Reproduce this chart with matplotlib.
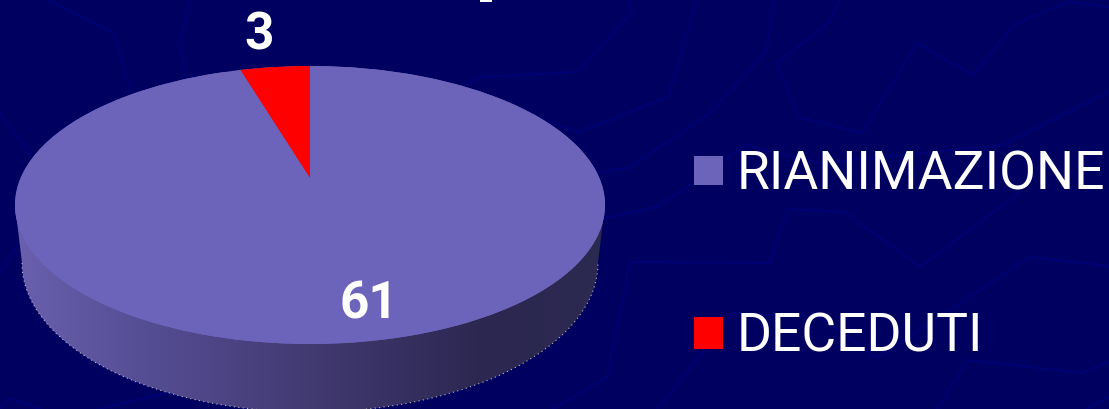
import numpy as np
import matplotlib
matplotlib.use("Agg")
import matplotlib.pyplot as plt
from matplotlib.colors import LinearSegmentedColormap
from matplotlib.patches import Circle, PathPatch, Rectangle
from matplotlib.path import Path

# data
categories = ["RIANIMAZIONE", "DECEDUTI"]
values = [61, 3]
colors = ["#6C63BB", "#FF0000"]

BG = "#000060"
LINE = "#000075"
W, H = 1109, 409

# faint decorative background polylines (pixel positions)
bg_lines = [
    [(49, 0), (113, 33), (132, 93)],
    [(188, 0), (190, 5), (179, 42), (186, 77)],
    [(464, 85), (480, 77), (577, 72), (632, 13), (628, 0)],
    [(549, 122), (579, 132), (620, 116), (668, 97), (697, 0)],
    [(0, 113), (32, 157)],
    [(597, 172), (628, 168), (708, 115), (767, 50), (773, 0)],
    [(605, 218), (657, 207), (703, 177), (745, 145), (820, 163), (1003, 145), (1109, 92)],
    [(18, 243), (0, 273)],
    [(1020, 192), (920, 267), (845, 212), (788, 209), (770, 263), (630, 262), (607, 377), (553, 409)],
    [(0, 409), (8, 398), (40, 409)],
    [(99, 409), (166, 393)],
    [(840, 0), (829, 23), (777, 63), (798, 117), (862, 133), (917, 43), (973, 75), (1015, 24), (1068, 2), (1109, 7)],
    [(658, 409), (733, 313), (820, 317), (877, 358), (1030, 257), (1109, 266)],
    [(937, 409), (968, 360), (1082, 373), (1109, 362)],
    [(1087, 409), (1109, 397)],
]

fig = plt.figure(figsize=(W / 100, H / 100), dpi=100, facecolor=BG)

# background layer in pixel coordinates
bg = fig.add_axes([0, 0, 1, 1], zorder=0)
bg.set_facecolor(BG)
for line in bg_lines:
    xs, ys = zip(*line)
    bg.plot(xs, ys, color=LINE, lw=1.4, solid_joinstyle="miter")

# sliver of a cut-off title glyph at the top edge
bg.add_patch(Rectangle((480, 0), 12, 2, fc="white", ec="none", zorder=4))

# pie side wall with horizontal shading
cx, top_cy, top_rx, top_ry = 310, 205, 295, 139
low_cy, low_rx, low_ry = 263, 288, 149
t = np.linspace(np.pi, 0, 200)
low_x = cx + low_rx * np.cos(t)
low_y = low_cy + low_ry * np.sin(t)
wall_pts = np.column_stack([
    np.r_[cx - top_rx, low_x, cx + top_rx, cx - top_rx],
    np.r_[top_cy, low_y, top_cy, top_cy],
])
wall = PathPatch(Path(wall_pts), fc="none", ec="none")
bg.add_patch(wall)
shade = LinearSegmentedColormap.from_list(
    "wall",
    [(0.0, "#6A60AE"), (0.2, "#574F96"), (0.5, "#423A72"), (0.8, "#2B2750"), (1.0, "#2D2A52")],
)
img = bg.imshow(np.linspace(0, 1, 300)[None, :], cmap=shade, aspect="auto",
                extent=(cx - top_rx, cx + top_rx, H, top_cy), zorder=2)
img.set_clip_path(wall)
bg.plot(low_x, low_y, color="#B8B8C8", lw=0.8, ls=(0, (1, 3)), zorder=3)

# legend
legend_text_y = [190, 352]
legend_box = [(156, 29), (317, 32)]
for name, col, ty, (by, bh) in zip(categories, colors, legend_text_y, legend_box):
    bg.add_patch(Rectangle((694, by), 29, bh, fc=col, ec="none", zorder=4))
    bg.text(737, ty, name, color="white", fontsize=38.5, family="Roboto",
            va="baseline", ha="left", zorder=5)

bg.text(259, 50, str(values[1]), color="white", fontsize=37, family="Roboto",
        weight="bold", ha="center", va="baseline", zorder=5)

bg.set_xlim(0, W)
bg.set_ylim(H, 0)
bg.axis("off")

# pie top face, squashed to an ellipse by its axes
pie_ax = fig.add_axes([(cx - top_rx) / W, 1 - (top_cy + top_ry) / H,
                       2 * top_rx / W, 2 * top_ry / H], zorder=1)
pie_ax.patch.set_alpha(0)
base = Circle((0, 0), 1, fc=colors[0], ec="none")
pie_ax.add_patch(base)
wedges, _ = pie_ax.pie(values, colors=colors, startangle=90, counterclock=False,
                       radius=1, wedgeprops=dict(linewidth=0))
# the sloped view places the slice tip above the ellipse centre
wedges[1].set_center((0, 0.194))
wedges[1].set_clip_on(True)
wedges[1].set_clip_path(Circle((0, 0), 1, transform=pie_ax.transData))
pie_ax.set_aspect("auto")
pie_ax.set_xlim(-1, 1)
pie_ax.set_ylim(-1, 1)
pie_ax.axis("off")
pie_ax.text(0.2, -0.82, str(values[0]), color="white", fontsize=37, family="Roboto",
            weight="bold", ha="center", va="baseline", zorder=6)

fig.savefig("out.png", dpi=100, facecolor=BG)
